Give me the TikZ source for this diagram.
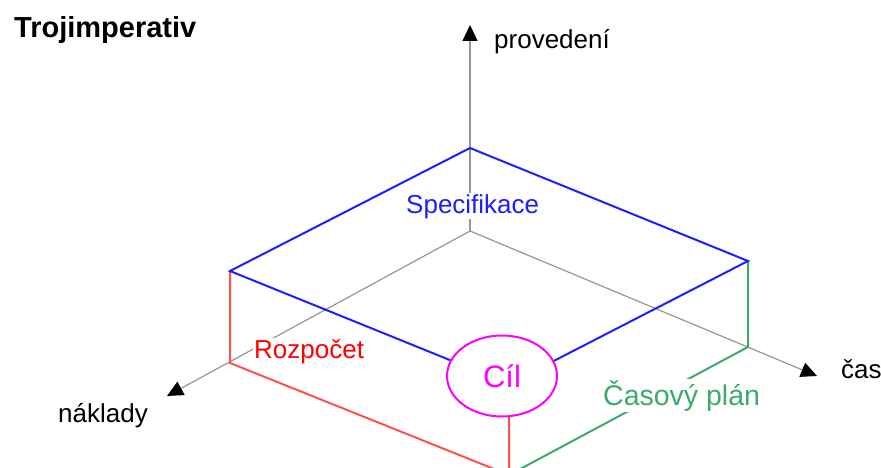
\documentclass[tikz,border=0pt]{standalone}
\usepackage{fontspec}
\setmainfont{Liberation Sans}
\usetikzlibrary{positioning, arrows.meta, shapes.geometric}

\definecolor{axisgray}{RGB}{150,150,150}
\definecolor{specblue}{RGB}{30,30,255}
\definecolor{costred}{RGB}{255,80,80}
\definecolor{timegreen}{RGB}{60,170,110}
\definecolor{goalpink}{RGB}{255,0,255}

\begin{document}
\begin{tikzpicture}[x=1pt, y=-1pt, >={Triangle[length=16pt,width=15pt,color=black]},
  axis/.style={draw=axisgray, line width=1.2pt, ->},
  edge/.style={line width=2pt},
  lbl/.style={font=\fontsize{26}{30}\selectfont, inner sep=1pt, anchor=base west},
  tag/.style={lbl, fill=white}]
  \useasboundingbox (0,0) rectangle (881,468);
  \clip (0,0) rectangle (881,468);

  % axes
  \coordinate (O) at (470,231);
  \coordinate (up) at (470,25);
  \coordinate (rt) at (817,376);
  \coordinate (lf) at (167,396);
  \draw[axis] (O) -- (up);
  \draw[axis] (O) -- (rt);
  \draw[axis] (O) -- (lf);

  % box corners
  \coordinate (T) at (470,148);
  \coordinate (L) at (230,271);
  \coordinate (R) at (748,261);
  \coordinate (F) at (509,384);
  \coordinate (LB) at (230,363);
  \coordinate (RB) at (748,347);
  \coordinate (FB) at (509,475);

  \draw[edge, costred] (L) -- (LB) -- (FB) -- (F);
  \draw[edge, timegreen] (R) -- (RB) -- (FB);
  \draw[edge, specblue] (L) -- (T) -- (R) -- (F) -- cycle;

  \node[ellipse, draw=goalpink, line width=2pt, fill=white, text=goalpink,
        minimum width=110pt, minimum height=81pt, inner sep=0pt,
        font=\fontsize{31}{36}\selectfont] (goal) at (502,376) {Cíl};

  % labels
  \node[lbl, font=\bfseries\fontsize{29}{34}\selectfont] (title) at (13,38) {Trojimperativ};
  \node[lbl] (perf) at (493,49) {provedení};
  \node[lbl] (time) at (840,378) {čas};
  \node[lbl] (cost) at (57,422) {náklady};
  \node[tag, text=specblue] (spec) at (405,213) {Specifikace};
  \node[tag, text=red] (budget) at (253,358) {Rozpočet};
  \node[tag, text=timegreen, font=\fontsize{28.5}{33}\selectfont] (plan) at (602,405) {Časový plán};
\end{tikzpicture}
\end{document}
